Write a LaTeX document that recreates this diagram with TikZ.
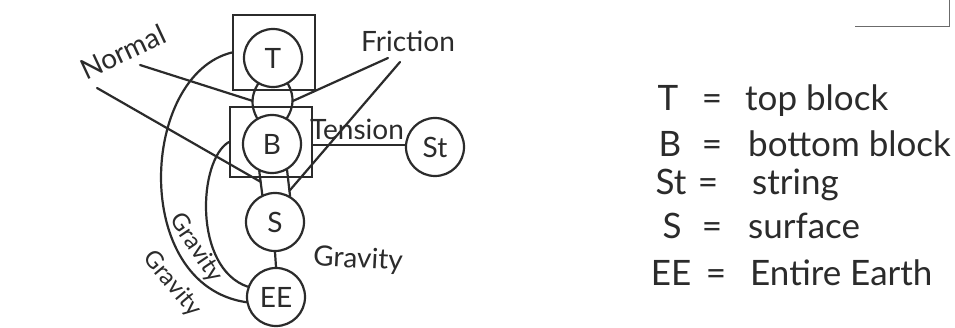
\documentclass[tikz,border=0pt]{standalone}
\usepackage{fontspec}
\setmainfont{Lato}
\usepackage{tikz}
\definecolor{FBInk}{HTML}{2B2B2B}
\definecolor{FBPaper}{HTML}{FFFFFF}

\begin{document}
\begin{tikzpicture}[x=1pt,y=-1pt,
  ink/.style={FBInk,line width=2.2pt,line cap=round},
  obj/.style={circle,draw=FBInk,line width=2.2pt,minimum size=58pt,inner sep=0pt,text=FBInk,font=\fontsize{28}{28}\selectfont},
  blk/.style={rectangle,draw=FBInk,line width=2.2pt,inner sep=0pt},
  force/.style={text=FBInk,inner sep=0pt,font=\fontsize{28}{28}\selectfont},
  alongarc/.style={force,font=\fontsize{24}{24}\selectfont},
  key/.style={text=FBInk,inner sep=0pt,font=\fontsize{35}{35}\selectfont}]
\path[use as bounding box] (0,0) rectangle (955,328);
\fill[FBPaper] (0,0) rectangle (955,328);
% corner of the sheet, top right
\draw[FBInk!70,line width=1pt] (855,27) -- (949,27) -- (949,0);
% the two blocks
\node[blk,minimum width=82pt,minimum height=75pt] (Tbox) at (274,52.5) {};
\node[blk,minimum width=82pt,minimum height=70pt] (Bbox) at (271,142) {};
% objects
\node[obj] (T) at (273,58) {T};
\node[obj] (B) at (272,144) {B};
\node[obj] (St) at (435,147) {St};
\node[obj] (S) at (275,222) {S};
\node[obj] (EE) at (276,297) {EE};
% interactions
\draw[ink] (T.240) to[bend right=30] coordinate[pos=0.5] (tbL) (B.120);
\draw[ink] (T.300) to[bend left=30] coordinate[pos=0.5] (tbR) (B.60);
\draw[ink] (B.245) -- coordinate[pos=0.45] (bsL) (S.115);
\draw[ink] (B.300) -- coordinate[pos=0.8] (bsR) (S.60);
\draw[ink] (S.south) -- (EE.north);
\draw[ink] (Bbox.east |- 0,145) -- (St.west |- 0,145);
\draw[ink] (Tbox.west) .. controls (140,75) and (130,285) .. (EE.190);
\draw[ink] (Bbox.west) .. controls (198,160) and (193,268) .. (EE.160);
% force labels
\node[force,rotate=25] (lNormal) at (123,52) {Normal};
\node[force] (lFriction) at (408,41) {Friction};
\node[force] (lTension) at (357,129) {Tension};
\node[alongarc,rotate=-56] (lGravIn) at (196,248) {Gravity};
\node[alongarc,rotate=-50] (lGravOut) at (172,284) {Gravity};
\node[force,rotate=-3] (lGravS) at (358,260) {Gravity};
\coordinate (n1) at (140,65);
\coordinate (n2) at (97,88);
\coordinate (f1) at (388,58);
\coordinate (f2) at (400,62);
\draw[ink] (n1) -- (tbL);
\draw[ink] (n2) -- (bsL);
\draw[ink] (f1) -- (tbR);
\draw[ink] (f2) -- (bsR);
% key
\node[key,anchor=base] (kT) at (668,111) {T};
\node[key,anchor=base] (eT) at (712,111) {=};
\node[key,anchor=base west] (dT) at (745,111) {top block};
\node[key,anchor=base] (kB) at (670,157) {B};
\node[key,anchor=base] (eB) at (712,157) {=};
\node[key,anchor=base west] (dB) at (748,157) {bottom block};
\node[key,anchor=base] (kSt) at (671,195) {St};
\node[key,anchor=base] (eSt) at (708,195) {=};
\node[key,anchor=base west] (dSt) at (752,195) {string};
\node[key,anchor=base] (kS) at (672,239) {S};
\node[key,anchor=base] (eS) at (712,239) {=};
\node[key,anchor=base west] (dS) at (748,239) {surface};
\node[key,anchor=base] (kEE) at (671,286) {EE};
\node[key,anchor=base] (eEE) at (716,286) {=};
\node[key,anchor=base west] (dEE) at (750,286) {Entire Earth};
\end{tikzpicture}
\end{document}
